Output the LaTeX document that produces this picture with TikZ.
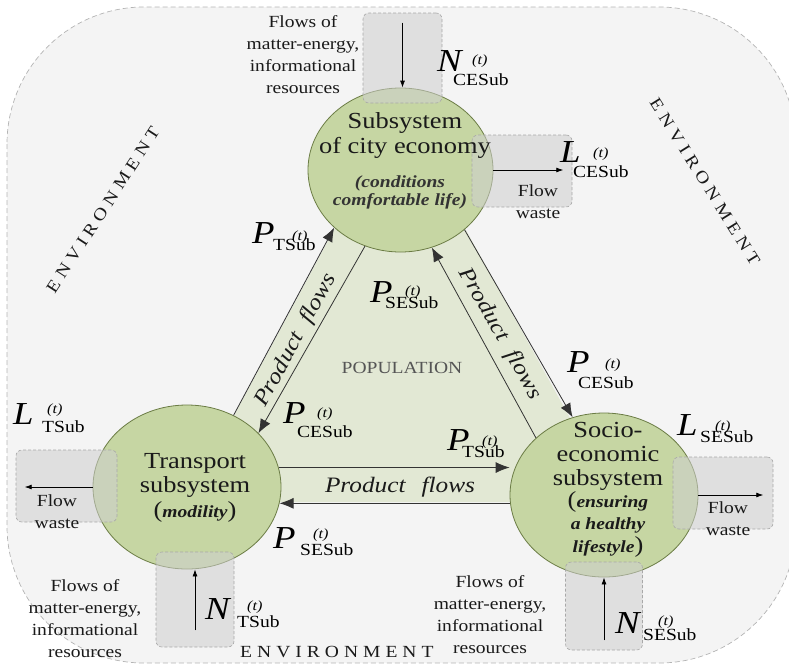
\documentclass[tikz,border=0pt]{standalone}
\usepackage{fontspec}
\setmainfont{Liberation Serif}[FakeStretch=1.15]
\usetikzlibrary{shapes.geometric,arrows.meta}
\definecolor{bgfill}{HTML}{F4F4F4}
\definecolor{bgline}{HTML}{B4B4B4}
\definecolor{trifill}{HTML}{E2E8D4}
\definecolor{circfill}{HTML}{C6D6A3}
\definecolor{circline}{HTML}{6B7C45}
\definecolor{boxfill}{HTML}{CFCFCF}
\definecolor{boxline}{HTML}{A8A8A8}
\definecolor{bandline}{HTML}{333333}
\definecolor{txtdark}{HTML}{1A1A1A}
\definecolor{txtgray}{HTML}{555555}
\newcommand{\envword}{E\kern5pt N\kern5pt V\kern5pt I\kern5pt R\kern5pt O\kern5pt N\kern5pt M\kern5pt E\kern5pt N\kern5pt T}
\newcommand{\bi}[1]{{\fontsize{17}{17}\selectfont\bfseries\itshape #1}}
\newcommand{\flab}[6]{%
 \makebox[0pt][l]{\kern#3pt\raisebox{-#4pt}{\fontsize{17}{17}\selectfont #2}}%
 \makebox[0pt][l]{\kern#5pt\raisebox{#6pt}{\fontsize{14}{14}\selectfont\itshape(t)}}%
 {\fontsize{32}{32}\selectfont\itshape #1}}
\tikzset{
 circ/.style={ellipse, draw=circline, fill=circfill, line width=0.8pt, inner sep=0pt, minimum height=164pt},
 gbox/.style={rectangle, rounded corners=6pt, draw=boxline, dash pattern=on 3pt off 2pt, line width=0.6pt, fill=boxfill, fill opacity=0.55, inner sep=0pt},
 band/.style={draw=bandline, line width=0.8pt, -{Latex[length=14pt,width=11pt]}},
 smallarr/.style={draw=black, line width=0.8pt, -{Latex[length=7pt,width=5pt]}},
 flowtxt/.style={font=\fontsize{17}{21.7}\selectfont, align=center, inner sep=0pt, anchor=base, text=txtdark},
 envtxt/.style={font=\fontsize{17}{17}\selectfont, inner sep=0pt, text=txtdark},
 pf/.style={font=\fontsize{22}{22}\selectfont\itshape, inner sep=0pt, text=txtdark},
 lab/.style={inner sep=0pt, anchor=base west, text=black},
}
\begin{document}
\begin{tikzpicture}[x=1pt,y=-1pt]
\useasboundingbox (0,0) rectangle (789,664);
\clip (0,0) rectangle (789,664);
% environment
\draw[fill=bgfill, draw=bgline, line width=0.7pt, dash pattern=on 5pt off 3pt, rounded corners=137pt] (7,7) rectangle (796,663);
% population triangle
\fill[trifill] (399,109) -- (187.5,502) -- (616.5,502) -- cycle;
% subsystems
\node[circ, minimum width=185pt] (top) at (400.5,170) {};
\node[circ, minimum width=188pt] (tr) at (187,487) {};
\node[circ, minimum width=188pt] (so) at (604,495) {};
% product flows
\draw[band] (tr.57) -- (top.221.8);
\draw[band] (top.245.8) -- (tr.37.8);
\draw[band] (top.317.2) -- (so.112);
\draw[band] (so.140) -- (top.292.4);
\draw[band] (tr.12) -- (tr.12 -| so.west);
\draw[band] (so.west |- tr.-10) -- (tr.-10);
% flow boxes
\node[gbox, minimum width=79pt, minimum height=90pt] (bxN) at (402.5,58) {};
\node[gbox, minimum width=100pt, minimum height=72pt] (bxL) at (522,171) {};
\node[gbox, minimum width=101pt, minimum height=72pt] (bxTL) at (66.5,486) {};
\node[gbox, minimum width=78pt, minimum height=95pt] (bxTB) at (195,599.5) {};
\node[gbox, minimum width=100pt, minimum height=72pt] (bxSR) at (723,493) {};
\node[gbox, minimum width=77pt, minimum height=88pt] (bxSB) at (604,606) {};
\draw[smallarr] ([yshift=-10pt]bxN.north) -- (bxN.north |- top.north);
\draw[smallarr] (top.east) -- ([xshift=-9pt]bxL.east |- top.east);
\draw[smallarr] (tr.west) -- ([xshift=9pt]bxTL.west |- tr.west);
\draw[smallarr] ([yshift=17pt]bxTB.south) -- (bxTB.south |- tr.south);
\draw[smallarr] (so.east) -- ([xshift=-10pt]bxSR.east |- so.east);
\draw[smallarr] ([yshift=10pt]bxSB.south) -- (bxSB.south |- so.south);
% circle texts (anchor base = baseline of last line)
\node[font=\fontsize{23}{25}\selectfont, align=center, inner sep=0pt, anchor=base, text=txtdark] (topA) at (405,153) {Subsystem\\of city economy};
\node[font=\fontsize{17}{18}\selectfont\bfseries\itshape, align=center, inner sep=0pt, anchor=base, text=bandline] (topB) at (400,205) {(conditions\\comfortable life)};
\node[font=\fontsize{23}{24.5}\selectfont, align=center, inner sep=0pt, anchor=base, text=txtdark] (trA) at (195,517) {Transport\\subsystem\\(\bi{modility})};
\node[font=\fontsize{23}{24}\selectfont, align=center, inner sep=0pt, anchor=base, text=txtdark] (soA) at (608,485) {Socio-\\economic\\subsystem};
\node[font=\fontsize{23}{22.5}\selectfont, align=center, inner sep=0pt, anchor=base, text=txtdark] (soB) at (608,552) {(\bi{ensuring}\\\bi{a healthy}\\\bi{lifestyle})};
% flow texts
\node[flowtxt] (fT) at (303,93) {Flows of\\matter-energy,\\informational\\resources};
\node[flowtxt] (fBL) at (85,657) {Flows of\\matter-energy,\\informational\\resources};
\node[flowtxt] (fBR) at (490,653) {Flows of\\matter-energy,\\informational\\resources};
\node[flowtxt] (wT) at (538,218) {Flow\\waste};
\node[flowtxt] (wTL) at (57,528) {Flow\\waste};
\node[flowtxt] (wSR) at (728,535) {Flow\\waste};
% environment & population
\node[envtxt, anchor=base west] (envB) at (240,657) {\envword};
\node[envtxt, rotate=57] (envL) at (103,210) {\envword};
\node[envtxt, rotate=-58] (envR) at (705,182) {\envword};
\node[font=\fontsize{17}{17}\selectfont, text=txtgray, inner sep=0pt] (pop) at (402,368) {POPULATION};
\node[pf, anchor=base] (pfB) at (400,492) {Product\hspace{16pt}flows};
\node[pf, rotate=61.5] (pfL) at (296,340) {Product\hspace{14pt}flows};
\node[pf, rotate=-60.5] (pfR) at (500,334) {Product\hspace{14pt}flows};
% labels
\node[lab] (lN1) at (437,71) {\flab{N}{CESub}{16}{14}{35}{7}};
\node[lab] (lL1) at (560,162) {\flab{L}{CESub}{13}{15}{33}{5}};
\node[lab] (lP1) at (252,243) {\flab{P}{TSub}{21}{7}{40}{3}};
\node[lab] (lP2) at (370,302) {\flab{P}{SESub}{15}{6}{35}{7}};
\node[lab] (lP3) at (567,372) {\flab{P}{CESub}{11}{16}{38}{4}};
\node[lab] (lP4) at (283,423) {\flab{P}{CESub}{14}{14}{34}{6}};
\node[lab] (lP5) at (447,450) {\flab{P}{TSub}{15}{7}{35}{5}};
\node[lab] (lP6) at (273,548) {\flab{P}{SESub}{27}{7}{40}{10}};
\node[lab] (lL2) at (13,424) {\flab{L}{TSub}{29}{8}{34}{11}};
\node[lab] (lL3) at (677,435) {\flab{L}{SESub}{23}{7}{38}{5}};
\node[lab] (lN2) at (205,619) {\flab{N}{TSub}{32}{8}{42}{9}};
\node[lab] (lN3) at (615,633) {\flab{N}{SESub}{28}{7}{43}{8}};
\end{tikzpicture}
\end{document}
